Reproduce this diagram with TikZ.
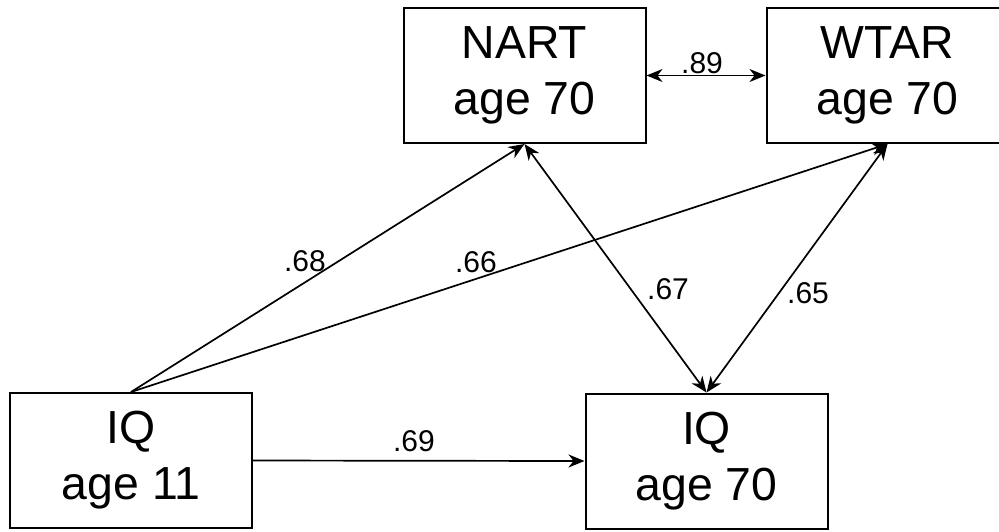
\documentclass[tikz,border=0pt]{standalone}
\usepackage{fontspec}
\setmainfont{Liberation Sans}
\usetikzlibrary{arrows.meta}
\tikzset{
  var/.style={draw, line width=1pt, minimum width=121pt, minimum height=67.5pt,
    inner sep=0pt, align=center, font=\fontsize{23.2}{28}\selectfont,
    execute at begin node={\rule{0pt}{18.1pt}}},
  link/.style={line width=0.85pt, -{Stealth[length=8pt,width=6.5pt,inset=2.5pt]}},
  twoway/.style={line width=0.85pt, {Stealth[length=8pt,width=6.5pt,inset=2.5pt]}-{Stealth[length=8pt,width=6.5pt,inset=2.5pt]}},
  coef/.style={inner sep=1pt, font=\fontsize{15}{17}\selectfont}
}
\begin{document}
\begin{tikzpicture}[x=0.5pt,y=-0.5pt]
    \useasboundingbox (0,0) rectangle (999,531);
    \clip (0,0) rectangle (999,531);
    % boxes
    \node[var] (nart) at (524.5,75.5) {NART\\age 70};
    \node[var] (wtar) at (887.5,75.5) {WTAR\\age 70};
    \node[var] (iqold) at (131,460.5) {IQ\\age 11};
    \node[var] (iqnew) at (706.5,461) {IQ\\age 70};
    % paths
    \draw[twoway] (nart.east) -- (wtar.west);
    \draw[link] (iqold.north) -- (nart.south);
    \draw[link] (iqold.north) -- (wtar.south);
    \draw[twoway] (nart.south) -- (iqnew.north);
    \draw[twoway] (wtar.south) -- (iqnew.north);
    \draw[link] (iqold.east) -- (iqnew.west);
    % coefficients
    \node[coef] (c89) at (702,63) {.89};
    \node[coef] (c68) at (305,261) {.68};
    \node[coef] (c66) at (476,262) {.66};
    \node[coef] (c67) at (668,289) {.67};
    \node[coef] (c65) at (808,293) {.65};
    \node[coef] (c69) at (414,441) {.69};
\end{tikzpicture}
\end{document}
